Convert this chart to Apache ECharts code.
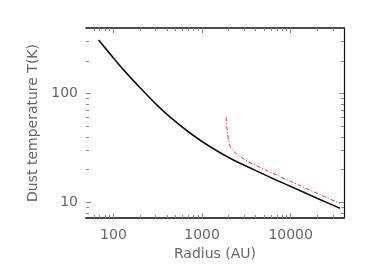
<!DOCTYPE html>
<html>
<head>
<meta charset="utf-8">
<script src="https://cdn.jsdelivr.net/npm/echarts@6/dist/echarts.min.js"></script>
<style>html,body{margin:0;padding:0;background:#fff}#c{width:370px;height:273px}</style>
</head>
<body>
<div id="c"></div>
<script>
// Black curve: radius (AU) vs dust temperature (K)
const blackR = [68, 100, 130, 200, 308, 450, 700, 1000, 1500, 2070, 3500, 6000, 12700, 22000, 36000];
const blackT = [311, 212, 165, 113, 78.7, 59.4, 44.6, 36.3, 29.5, 25.5, 20.7, 16.9, 12.85, 10.55, 8.86];
// Red dash-dot curve
const redR = [1866, 1900, 1950, 1983, 2050, 2126, 2300, 2566, 3326, 5130, 7000, 12700, 22000, 36000];
const redT = [60.7, 50, 42, 37.6, 33.5, 31.5, 29.3, 27.2, 23.6, 20.0, 17.8, 14.3, 11.7, 9.8];
// Tick values
const xMajor = [100, 1000, 10000];
const xMinor = [60, 70, 80, 90, 200, 300, 400, 500, 600, 700, 800, 900, 2000, 3000, 4000, 5000, 6000, 7000, 8000, 9000, 20000, 30000];
const yMajor = [10, 100];
const yMinor = [8, 9, 20, 30, 40, 50, 60, 70, 80, 90, 200, 300];

const X_MIN = 49, X_MAX = 40000, Y_MIN = 7.2, Y_MAX = 400;
const font = 'DejaVu Sans';
const txt = '#666';
const tickCol = '#888';

function xa(pos, ticks, len, showLine, lineW, lineCol, labels) {
  return {
    type: 'log', logBase: 10, min: X_MIN, max: X_MAX, position: pos,
    axisLine: {show: showLine, onZero: false, lineStyle: {color: lineCol, width: lineW}},
    axisTick: {show: true, inside: true, length: len, customValues: ticks, lineStyle: {color: tickCol, width: 1}},
    axisLabel: labels ? {show: true, customValues: xMajor, margin: 10, color: txt, fontFamily: font, fontSize: 14, formatter: v => String(Math.round(v))} : {show: false},
    splitLine: {show: false}, minorTick: {show: false}
  };
}
function ya(pos, ticks, len, showLine, lineW, lineCol, labels) {
  return {
    type: 'log', logBase: 10, min: Y_MIN, max: Y_MAX, position: pos,
    axisLine: {show: showLine, onZero: false, lineStyle: {color: lineCol, width: lineW}},
    axisTick: {show: true, inside: true, length: len, customValues: ticks, lineStyle: {color: tickCol, width: 1}},
    axisLabel: labels ? {show: true, customValues: yMajor, margin: 8, color: txt, fontFamily: font, fontSize: 14, formatter: v => String(Math.round(v))} : {show: false},
    splitLine: {show: false}, minorTick: {show: false}
  };
}

const xAxes = [
  Object.assign(xa('bottom', xMajor, 5, true, 2, '#444', true), {
    name: 'Radius (AU)', nameLocation: 'middle', nameGap: 27,
    nameTextStyle: {color: txt, fontFamily: font, fontSize: 14}
  }),
  xa('bottom', xMinor, 3, false, 1, '#000', false),
  xa('top', xMajor, 5, true, 1.5, '#111', false),
  xa('top', xMinor, 3, false, 1, '#000', false)
];
const yAxes = [
  Object.assign(ya('left', yMajor, 5, false, 1, '#000', true), {
    name: 'Dust temperature T(K)', nameLocation: 'middle', nameGap: 37,
    nameTextStyle: {color: txt, fontFamily: font, fontSize: 14}
  }),
  ya('left', yMinor, 3, false, 1, '#000', false),
  ya('right', yMajor, 5, true, 1.2, '#111', false),
  ya('right', yMinor, 3, false, 1, '#000', false)
];

const chart = echarts.init(document.getElementById('c'), null, {renderer: 'canvas'});
chart.setOption({
  animation: false,
  backgroundColor: '#fff',
  grid: {left: 86, right: 26, top: 28, bottom: 55, containLabel: false},
  xAxis: xAxes,
  yAxis: yAxes,
  series: [
    {
      type: 'line', xAxisIndex: 0, yAxisIndex: 0, showSymbol: false, smooth: 0.2,
      data: blackR.map((r, i) => [r, blackT[i]]),
      lineStyle: {color: '#111', width: 1.6}
    },
    {
      type: 'line', xAxisIndex: 0, yAxisIndex: 0, showSymbol: false, smooth: 0.2,
      data: redR.map((r, i) => [r, redT[i]]),
      lineStyle: {color: '#e0302a', width: 1, type: [4, 2, 1, 2]}
    }
  ]
});
</script>
</body>
</html>
